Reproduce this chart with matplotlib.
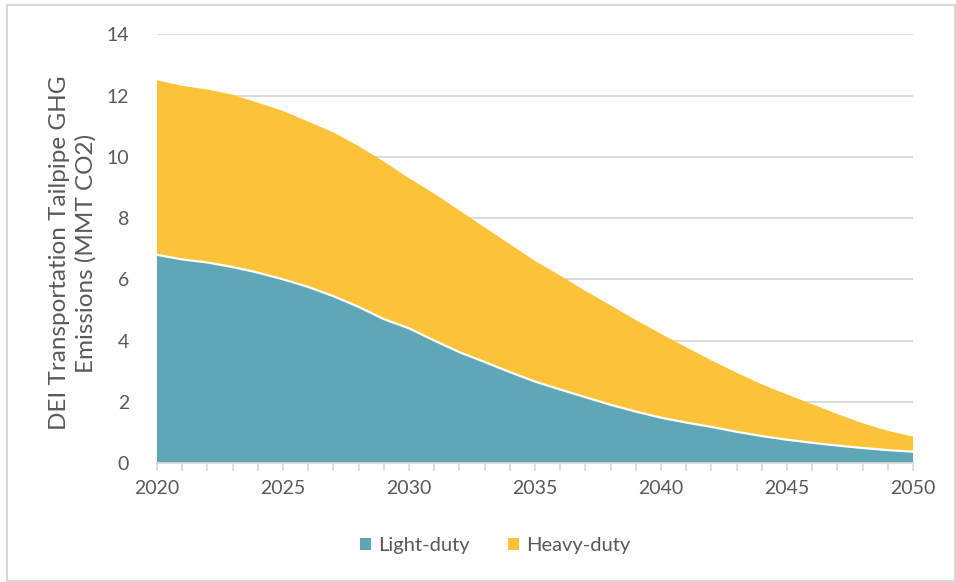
import matplotlib
matplotlib.use("Agg")
import matplotlib.pyplot as plt
from matplotlib.patches import Rectangle
import numpy as np

years = list(range(2020, 2051))
light_duty = [6.80, 6.65, 6.55, 6.40, 6.22, 6.00, 5.75, 5.45, 5.10, 4.70,
              4.40, 4.00, 3.62, 3.30, 2.97, 2.66, 2.40, 2.15, 1.90, 1.68,
              1.48, 1.32, 1.18, 1.02, 0.88, 0.76, 0.66, 0.57, 0.49, 0.42,
              0.37]
heavy_duty = [5.70, 5.67, 5.65, 5.63, 5.55, 5.50, 5.40, 5.35, 5.25, 5.15,
              4.90, 4.80, 4.63, 4.40, 4.18, 3.94, 3.72, 3.47, 3.25, 2.99,
              2.74, 2.46, 2.17, 1.93, 1.69, 1.48, 1.26, 1.03, 0.81, 0.63,
              0.49]
series_names = ["Light-duty", "Heavy-duty"]
y_ticks = [0, 2, 4, 6, 8, 10, 12, 14]
x_ticks = [2020, 2025, 2030, 2035, 2040, 2045, 2050]
y_label = "DEI Transportation Tailpipe GHG\nEmissions (MMT CO2)"

teal = "#5FA6B7"
gold = "#FCC33A"
text_grey = "#595959"
grid_grey = "#D9D9D9"

plt.rcParams["font.family"] = ["Lato", "DejaVu Sans"]

fig = plt.figure(figsize=(9.56, 5.82), dpi=100)
ax = fig.add_axes([157 / 956, 1 - 463 / 582, (913 - 157) / 956, (463 - 34.4) / 582])

x = np.array(years)
ld = np.array(light_duty)
hd = np.array(heavy_duty)

ax.stackplot(x, ld, hd, colors=[teal, gold], labels=series_names,
             linewidth=0, zorder=2)
ax.plot(x, ld, color="white", linewidth=1.6, zorder=3)

ax.set_xlim(2020, 2050)
ax.set_ylim(0, 14)
ax.set_yticks(y_ticks)
ax.set_xticks(x_ticks)
ax.set_xticks(years, minor=True)
ax.grid(axis="y", color=grid_grey, linewidth=1.3, zorder=1)
ax.set_axisbelow(True)

for side in ["top", "right", "left"]:
    ax.spines[side].set_visible(False)
ax.spines["bottom"].set_color(grid_grey)
ax.spines["bottom"].set_linewidth(1.3)
ax.spines["bottom"].set_zorder(4)

ax.tick_params(axis="y", length=0, pad=20, labelsize=14, labelcolor=text_grey)
ax.tick_params(axis="x", which="both", length=6, width=1.2, color=grid_grey,
               pad=6, labelsize=14, labelcolor=text_grey)
ax.tick_params(axis="x", which="minor", labelbottom=False)

fig.text(73 / 956, 1 - 253 / 582, y_label, rotation=90, ha="center", va="center",
         fontsize=17.5, color=text_grey, linespacing=1.3)

leg = fig.legend(loc="center", bbox_to_anchor=(495 / 956, 1 - 546 / 582),
                 ncol=2, frameon=False, fontsize=14.5, labelcolor=text_grey,
                 handlelength=0.55, handleheight=0.55, handletextpad=0.35,
                 columnspacing=1.9)

fig.patches.append(Rectangle((7 / 956, 1 / 582), 948 / 956, 576 / 582,
                             transform=fig.transFigure, fill=False,
                             edgecolor="#D9D9D9", linewidth=1.5))

fig.savefig("out.png", dpi=100)
